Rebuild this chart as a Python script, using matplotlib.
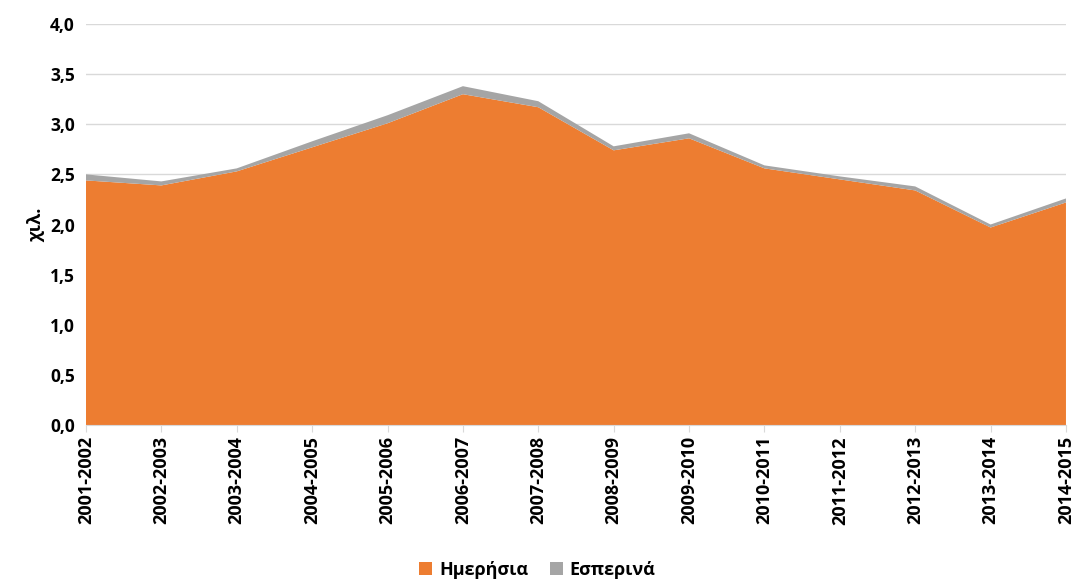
import matplotlib
matplotlib.use('Agg')
import matplotlib.pyplot as plt

plt.rcParams['font.family'] = ['Open Sans', 'DejaVu Sans']
plt.rcParams['font.weight'] = 'bold'

# σχολικά έτη
years = ['2001-2002', '2002-2003', '2003-2004', '2004-2005', '2005-2006', '2006-2007',
         '2007-2008', '2008-2009', '2009-2010', '2010-2011', '2011-2012', '2012-2013',
         '2013-2014', '2014-2015']
# χιλιάδες
imerisia = [2.44, 2.39, 2.53, 2.77, 3.01, 3.30, 3.17, 2.74, 2.86, 2.56, 2.45, 2.34, 1.97, 2.22]
esperina = [0.06, 0.04, 0.03, 0.06, 0.08, 0.08, 0.06, 0.04, 0.05, 0.03, 0.03, 0.04, 0.03, 0.04]

fig = plt.figure(figsize=(10.75, 5.79), dpi=100)
ax = fig.add_axes([0.08, 0.266, 0.9116, 0.6925])

x = list(range(len(years)))
ax.stackplot(x, imerisia, esperina, colors=['#ED7D31', '#A5A5A5'],
             labels=['Ημερήσια', 'Εσπερινά'], linewidth=0)

ax.set_xlim(0, len(years) - 1)
ax.set_ylim(0, 4.0)
ax.set_yticks([i * 0.5 for i in range(9)])
ax.set_yticklabels([('%.1f' % (i * 0.5)).replace('.', ',') for i in range(9)],
                   fontsize=12.5, fontweight='bold')
ax.set_xticks(x)
ax.set_xticklabels(years, rotation=90, fontsize=13, fontweight='bold')
ax.set_ylabel('χιλ.', fontsize=13, fontweight='bold', labelpad=3)

ax.grid(axis='y', color='#D9D9D9', linewidth=1)
ax.set_axisbelow(True)
for s in ['top', 'right', 'left']:
    ax.spines[s].set_visible(False)
ax.spines['bottom'].set_color('#D9D9D9')
ax.tick_params(axis='y', length=0, pad=8)
ax.tick_params(axis='x', length=5, color='#D9D9D9', pad=3)

fig.legend(loc='lower center', bbox_to_anchor=(0.5, -0.028), ncol=2, frameon=False,
           prop={'size': 13, 'weight': 'bold'}, handlelength=0.7, handleheight=0.7,
           columnspacing=1.2, handletextpad=0.4)

fig.savefig('out.png', dpi=100)
